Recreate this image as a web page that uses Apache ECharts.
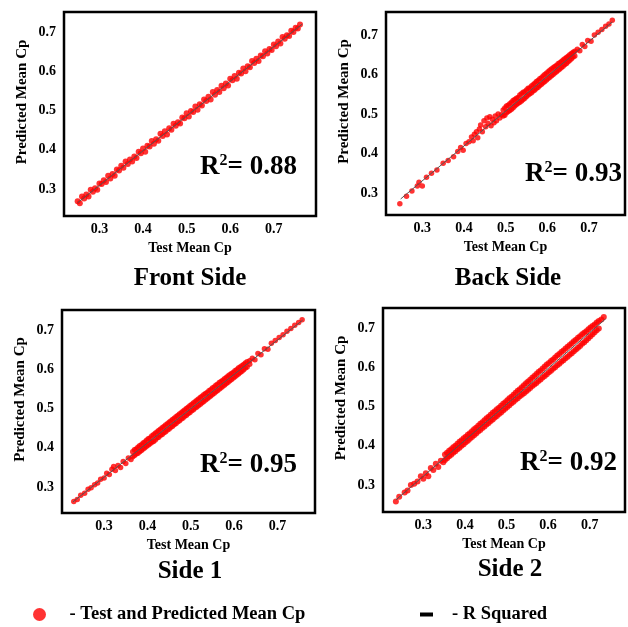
<!DOCTYPE html>
<html>
<head>
<meta charset="utf-8">
<script src="https://cdn.jsdelivr.net/npm/echarts@6/dist/echarts.min.js"></script>
<style>
  html, body { margin: 0; padding: 0; background: #fff; }
  #main { width: 628px; height: 627px; }
</style>
</head>
<body>
<div id="main"></div>
<script>
// tick labels shown on both axes of every panel
const tickLabels = ['0.3', '0.4', '0.5', '0.6', '0.7'];
const panelNames = ['Front Side', 'Back Side', 'Side 1', 'Side 2'];
const rSquared = ['0.88', '0.93', '0.95', '0.92'];

// [test mean Cp, predicted mean Cp]
const frontSide = [
  [0.250,0.269],[0.255,0.264],[0.260,0.281],[0.265,0.276],[0.270,0.286],[0.275,0.281],[0.280,0.298],[0.285,0.293],
  [0.290,0.302],[0.295,0.298],[0.300,0.314],[0.305,0.313],[0.310,0.322],[0.315,0.318],[0.320,0.334],[0.325,0.327],
  [0.330,0.338],[0.335,0.334],[0.340,0.350],[0.345,0.347],[0.350,0.359],[0.355,0.354],[0.360,0.370],[0.365,0.364],
  [0.370,0.375],[0.375,0.370],[0.380,0.383],[0.385,0.379],[0.390,0.395],[0.395,0.391],[0.400,0.403],[0.405,0.395],
  [0.410,0.410],[0.415,0.408],[0.420,0.422],[0.425,0.415],[0.430,0.427],[0.435,0.423],[0.440,0.441],[0.445,0.435],
  [0.450,0.447],[0.455,0.439],[0.460,0.455],[0.465,0.451],[0.470,0.466],[0.475,0.461],[0.480,0.470],[0.485,0.467],
  [0.490,0.482],[0.495,0.480],[0.500,0.493],[0.505,0.485],[0.510,0.499],[0.515,0.496],[0.520,0.510],[0.525,0.502],
  [0.530,0.516],[0.535,0.513],[0.540,0.528],[0.545,0.524],[0.550,0.535],[0.555,0.528],[0.560,0.547],[0.565,0.540],
  [0.570,0.552],[0.575,0.547],[0.580,0.563],[0.585,0.557],[0.590,0.569],[0.595,0.564],[0.600,0.581],[0.605,0.577],
  [0.610,0.588],[0.615,0.581],[0.620,0.596],[0.625,0.594],[0.630,0.607],[0.635,0.600],[0.640,0.613],[0.645,0.610],
  [0.650,0.626],[0.655,0.621],[0.660,0.632],[0.665,0.626],[0.670,0.640],[0.675,0.638],[0.680,0.651],[0.685,0.645],
  [0.690,0.657],[0.695,0.654],[0.700,0.668],[0.705,0.664],[0.710,0.676],[0.715,0.671],[0.720,0.687],[0.725,0.683],
  [0.730,0.692],[0.735,0.690],[0.740,0.703],[0.745,0.700],[0.750,0.711],[0.755,0.709],[0.760,0.719]
];

const backSide = [
  [0.246,0.273],[0.262,0.292],[0.275,0.305],[0.288,0.318],[0.292,0.327],[0.300,0.318],[0.310,0.340],[0.322,0.350],
  [0.335,0.358],[0.350,0.375],[0.362,0.382],[0.375,0.392],[0.385,0.405],[0.392,0.415],[0.398,0.408],[0.405,0.425],
  [0.412,0.430],[0.418,0.442],[0.422,0.432],[0.425,0.449],[0.430,0.455],[0.433,0.440],[0.437,0.462],[0.440,0.472],
  [0.444,0.455],[0.448,0.483],[0.452,0.468],[0.455,0.490],[0.458,0.476],[0.462,0.493],[0.465,0.470],[0.468,0.487],
  [0.472,0.478],[0.475,0.495],[0.478,0.483],[0.482,0.500],[0.486,0.490],[0.490,0.498],
  [0.494,0.510],[0.494,0.495],[0.498,0.515],[0.498,0.497],[0.502,0.503],[0.502,0.520],[0.506,0.522],[0.506,0.506],
  [0.510,0.509],[0.510,0.526],[0.514,0.530],[0.514,0.512],[0.518,0.516],[0.518,0.534],[0.522,0.537],[0.522,0.520],
  [0.526,0.524],[0.526,0.540],[0.530,0.542],[0.530,0.527],[0.534,0.530],[0.534,0.548],[0.538,0.551],[0.538,0.533],
  [0.542,0.537],[0.542,0.555],[0.546,0.556],[0.546,0.540],[0.550,0.544],[0.550,0.561],[0.554,0.565],[0.554,0.548],
  [0.558,0.551],[0.558,0.566],[0.562,0.571],[0.562,0.554],[0.566,0.558],[0.566,0.574],[0.570,0.578],[0.570,0.561],
  [0.574,0.565],[0.574,0.582],[0.578,0.585],[0.578,0.568],[0.582,0.572],[0.582,0.589],[0.586,0.592],[0.586,0.575],
  [0.590,0.579],[0.590,0.596],[0.594,0.600],[0.594,0.582],[0.598,0.586],[0.598,0.603],[0.602,0.607],[0.602,0.590],
  [0.606,0.593],[0.606,0.611],[0.610,0.614],[0.610,0.597],[0.614,0.600],[0.614,0.617],[0.618,0.620],[0.618,0.604],
  [0.622,0.607],[0.622,0.623],[0.626,0.627],[0.626,0.611],[0.630,0.614],[0.630,0.630],[0.634,0.633],[0.634,0.618],
  [0.638,0.621],[0.638,0.637],[0.642,0.640],[0.642,0.625],[0.646,0.628],[0.646,0.643],[0.650,0.646],[0.650,0.632],
  [0.654,0.636],[0.654,0.650],[0.658,0.653],[0.658,0.640],[0.662,0.644],[0.662,0.656],[0.666,0.659],[0.666,0.647],
  [0.672,0.664],[0.678,0.660],[0.684,0.676],[0.690,0.671],[0.697,0.686],[0.705,0.684],[0.713,0.700],[0.722,0.707],
  [0.731,0.714],[0.740,0.722],[0.748,0.728],[0.756,0.737]
];

const side1 = [
  [0.230,0.263],[0.238,0.268],[0.246,0.279],[0.255,0.284],[0.263,0.294],[0.270,0.298],[0.278,0.306],[0.285,0.310],
  [0.292,0.320],[0.300,0.323],[0.306,0.335],[0.312,0.332],[0.318,0.345],[0.322,0.352],[0.326,0.342],[0.332,0.355],
  [0.338,0.350],[0.344,0.365],[0.350,0.360],[0.356,0.374],[0.362,0.370],
  [0.366,0.390],[0.366,0.377],[0.370,0.380],[0.370,0.395],[0.374,0.397],[0.374,0.384],[0.378,0.386],[0.378,0.401],
  [0.382,0.405],[0.382,0.390],[0.386,0.393],[0.386,0.408],[0.390,0.412],[0.390,0.397],[0.394,0.400],[0.394,0.415],
  [0.398,0.419],[0.398,0.404],[0.402,0.407],[0.402,0.423],[0.406,0.425],[0.406,0.410],[0.410,0.414],[0.410,0.430],
  [0.414,0.433],[0.414,0.416],[0.418,0.420],[0.418,0.437],[0.422,0.440],[0.422,0.425],[0.426,0.427],[0.426,0.444],
  [0.430,0.447],[0.430,0.432],[0.434,0.434],[0.434,0.451],[0.438,0.454],[0.438,0.438],[0.442,0.441],[0.442,0.458],
  [0.446,0.461],[0.446,0.445],[0.450,0.448],[0.450,0.465],[0.454,0.468],[0.454,0.452],[0.458,0.455],[0.458,0.472],
  [0.462,0.475],[0.462,0.459],[0.466,0.462],[0.466,0.479],[0.470,0.482],[0.470,0.466],[0.474,0.469],[0.474,0.486],
  [0.478,0.489],[0.478,0.473],[0.482,0.476],[0.482,0.493],[0.486,0.496],[0.486,0.480],[0.490,0.483],[0.490,0.500],
  [0.494,0.503],[0.494,0.487],[0.498,0.490],[0.498,0.507],[0.502,0.510],[0.502,0.494],[0.506,0.497],[0.506,0.514],
  [0.510,0.517],[0.510,0.501],[0.514,0.504],[0.514,0.521],[0.518,0.524],[0.518,0.508],[0.522,0.511],[0.522,0.528],
  [0.526,0.531],[0.526,0.515],[0.530,0.518],[0.530,0.535],[0.534,0.538],[0.534,0.522],[0.538,0.525],[0.538,0.541],
  [0.542,0.545],[0.542,0.529],[0.546,0.532],[0.546,0.548],[0.550,0.552],[0.550,0.536],[0.554,0.539],[0.554,0.555],
  [0.558,0.559],[0.558,0.543],[0.562,0.546],[0.562,0.562],[0.566,0.566],[0.566,0.550],[0.570,0.553],[0.570,0.569],
  [0.574,0.572],[0.574,0.557],[0.578,0.560],[0.578,0.576],[0.582,0.579],[0.582,0.564],[0.586,0.567],[0.586,0.583],
  [0.590,0.586],[0.590,0.571],[0.594,0.574],[0.594,0.589],[0.598,0.592],[0.598,0.578],[0.602,0.581],[0.602,0.596],
  [0.606,0.599],[0.606,0.585],[0.610,0.588],[0.610,0.603],[0.614,0.606],[0.614,0.592],[0.618,0.595],[0.618,0.609],
  [0.622,0.612],[0.622,0.599],[0.626,0.603],[0.626,0.616],[0.630,0.619],[0.630,0.606],
  [0.636,0.622],[0.636,0.613],[0.642,0.628],[0.648,0.624],[0.655,0.640],[0.662,0.637],[0.670,0.652],[0.678,0.651],
  [0.686,0.666],[0.695,0.673],[0.704,0.681],[0.713,0.688],[0.722,0.697],[0.731,0.704],[0.740,0.712],[0.749,0.719],
  [0.757,0.726]
];

const side2 = [
  [0.234,0.258],[0.242,0.270],[0.255,0.281],[0.262,0.286],[0.270,0.300],[0.278,0.303],[0.286,0.309],[0.294,0.322],
  [0.300,0.316],[0.306,0.330],[0.312,0.322],[0.318,0.343],[0.324,0.338],[0.330,0.354],[0.336,0.346],[0.342,0.362],
  [0.348,0.358],
  [0.352,0.378],[0.352,0.364],[0.357,0.368],[0.357,0.382],[0.362,0.387],[0.362,0.373],[0.367,0.377],[0.367,0.391],
  [0.372,0.396],[0.372,0.382],[0.377,0.386],[0.377,0.400],[0.382,0.405],[0.382,0.391],[0.387,0.395],[0.387,0.410],
  [0.392,0.414],[0.392,0.400],[0.397,0.404],[0.397,0.419],[0.402,0.423],[0.402,0.409],[0.407,0.413],[0.407,0.428],
  [0.412,0.432],[0.412,0.418],[0.417,0.422],[0.417,0.437],[0.422,0.442],[0.422,0.427],[0.427,0.431],[0.427,0.446],
  [0.432,0.451],[0.432,0.436],[0.437,0.440],[0.437,0.456],[0.442,0.460],[0.442,0.445],[0.447,0.449],[0.447,0.465],
  [0.452,0.470],[0.452,0.454],[0.457,0.458],[0.457,0.474],[0.462,0.479],[0.462,0.463],[0.467,0.467],[0.467,0.484],
  [0.472,0.488],[0.472,0.472],[0.477,0.476],[0.477,0.493],[0.482,0.497],[0.482,0.481],[0.487,0.485],[0.487,0.502],
  [0.492,0.507],[0.492,0.490],[0.497,0.494],[0.497,0.511],[0.502,0.516],[0.502,0.499],[0.507,0.503],[0.507,0.521],
  [0.512,0.525],[0.512,0.508],[0.517,0.512],[0.517,0.530],[0.522,0.535],[0.522,0.517],[0.527,0.521],[0.527,0.540],
  [0.532,0.544],[0.532,0.526],[0.537,0.530],[0.537,0.549],[0.542,0.554],[0.542,0.534],[0.547,0.538],[0.547,0.559],
  [0.552,0.564],[0.552,0.543],[0.557,0.547],[0.557,0.568],[0.562,0.573],[0.562,0.552],[0.567,0.556],[0.567,0.578],
  [0.572,0.583],[0.572,0.560],[0.577,0.565],[0.577,0.588],[0.582,0.592],[0.582,0.569],[0.587,0.574],[0.587,0.597],
  [0.592,0.602],[0.592,0.578],[0.597,0.582],[0.597,0.607],[0.602,0.611],[0.602,0.587],[0.607,0.591],[0.607,0.616],
  [0.612,0.620],[0.612,0.596],[0.617,0.600],[0.617,0.625],[0.622,0.630],[0.622,0.605],[0.627,0.609],[0.627,0.634],
  [0.632,0.639],[0.632,0.614],[0.637,0.618],[0.637,0.643],[0.642,0.648],[0.642,0.623],[0.647,0.627],[0.647,0.652],
  [0.652,0.657],[0.652,0.632],[0.657,0.636],[0.657,0.661],[0.662,0.666],[0.662,0.641],[0.667,0.645],[0.667,0.670],
  [0.672,0.675],[0.672,0.650],[0.677,0.654],[0.677,0.679],[0.682,0.684],[0.682,0.660],[0.687,0.664],[0.687,0.688],
  [0.692,0.692],[0.692,0.669],[0.697,0.674],[0.697,0.697],[0.702,0.701],[0.702,0.679],[0.707,0.684],[0.707,0.705],
  [0.712,0.709],[0.712,0.689],[0.717,0.694],[0.717,0.714],[0.722,0.718],[0.722,0.699],[0.728,0.722],[0.734,0.728]
];

// end points of the fitted (R squared) line in each panel
const frontFit = [[0.250, 0.265], [0.765, 0.720]];
const backFit = [[0.248, 0.285], [0.756, 0.733]];
const side1Fit = [[0.228, 0.262], [0.758, 0.725]];
const side2Fit = [[0.234, 0.262], [0.738, 0.723]];

const pointsName = '- Test and Predicted Mean Cp';
const fitName = '- R Squared';

const chart = echarts.init(document.getElementById('main'));
const serif = 'Liberation Serif, Times New Roman, serif';

// panel boxes: left, top, width, height, x extent, y extent
const panels = [
  { box: [64, 12, 252, 204], x: [0.2187, 0.7967], y: [0.2312, 0.751], pts: frontSide, fit: frontFit,
    title: [190, 266], r2: [200, 153], dot: 6 },
  { box: [386, 12, 250, 203], x: [0.2128, 0.7865], y: [0.2443, 0.7582], pts: backSide, fit: backFit,
    title: [508, 266], r2: [525, 160], dot: 5.5 },
  { box: [62, 310, 253, 203], x: [0.2028, 0.7867], y: [0.2338, 0.751], pts: side1, fit: side1Fit,
    title: [190, 559], r2: [200, 451], dot: 5.5 },
  { box: [383, 308, 252, 204], x: [0.203, 0.785], y: [0.2312, 0.751], pts: side2, fit: side2Fit,
    title: [510, 557], r2: [520, 449], dot: 6 }
];

function tickFormatter(v) {
  const s = v.toFixed(1);
  return (Math.abs(v - Number(s)) < 1e-6 && tickLabels.indexOf(s) >= 0) ? s : '';
}

const grid = [], xAxis = [], yAxis = [], series = [], title = [];

panels.forEach((p, i) => {
  grid.push({
    left: p.box[0], top: p.box[1], width: p.box[2], height: p.box[3],
    show: true, borderColor: '#000', borderWidth: 2.5, backgroundColor: 'transparent'
  });
  xAxis.push({
    type: 'value', gridIndex: i, min: p.x[0], max: p.x[1],
    name: 'Test Mean Cp', nameLocation: 'middle', nameGap: 25,
    nameTextStyle: { fontFamily: serif, fontWeight: 'bold', fontSize: 14, color: '#000' },
    axisLine: { show: false }, axisTick: { show: false }, splitLine: { show: false },
    axisLabel: { formatter: tickFormatter, margin: 6, fontFamily: serif, fontWeight: 'bold', fontSize: 14, color: '#000' }
  });
  yAxis.push({
    type: 'value', gridIndex: i, min: p.y[0], max: p.y[1],
    name: 'Predicted Mean Cp', nameLocation: 'middle', nameGap: 34,
    nameTextStyle: { fontFamily: serif, fontWeight: 'bold', fontSize: 15, color: '#000', padding: [0, 0, 0, 24] },
    axisLine: { show: false }, axisTick: { show: false }, splitLine: { show: false },
    axisLabel: { formatter: tickFormatter, margin: 8, fontFamily: serif, fontWeight: 'bold', fontSize: 14, color: '#000' }
  });
  series.push({
    name: pointsName, type: 'scatter', xAxisIndex: i, yAxisIndex: i,
    data: p.pts, symbolSize: p.dot, itemStyle: { color: '#ff0000', opacity: 0.8 }, z: 2
  });
  series.push({
    name: fitName, type: 'line', xAxisIndex: i, yAxisIndex: i,
    data: p.fit, symbol: 'none', itemStyle: { color: '#000' },
    lineStyle: { color: '#555', width: 1 }, z: 3
  });
  title.push({
    text: panelNames[i], left: p.title[0], top: p.title[1], textAlign: 'center', padding: 0,
    textStyle: { fontFamily: serif, fontWeight: 'bold', fontSize: 25, color: '#000' }
  });
  title.push({
    text: '{r|R}{s|2}{r|= ' + rSquared[i] + '}', left: p.r2[0], top: p.r2[1], padding: 0,
    textStyle: {
      rich: {
        r: { fontFamily: serif, fontWeight: 'bold', fontSize: 27, color: '#000', lineHeight: 28 },
        s: { fontFamily: serif, fontWeight: 'bold', fontSize: 16, color: '#000', verticalAlign: 'top', lineHeight: 28 }
      }
    }
  });
});

chart.setOption({
  animation: false,
  backgroundColor: '#fff',
  title: title,
  grid: grid,
  xAxis: xAxis,
  yAxis: yAxis,
  legend: [
    {
      data: [pointsName], left: 33, top: 605, icon: 'circle', itemWidth: 13, itemHeight: 13,
      selectedMode: false, padding: 0,
      formatter: n => '    ' + n,
      textStyle: { fontFamily: serif, fontWeight: 'bold', fontSize: 18.5, color: '#000' }
    },
    {
      data: [fitName], left: 420, top: 605, icon: 'rect', itemWidth: 13, itemHeight: 4,
      selectedMode: false, padding: 0,
      formatter: n => '   ' + n,
      textStyle: { fontFamily: serif, fontWeight: 'bold', fontSize: 18.5, color: '#000' }
    }
  ],
  series: series
});

window.addEventListener('resize', () => {
  chart.resize();
});
</script>
</body>
</html>
